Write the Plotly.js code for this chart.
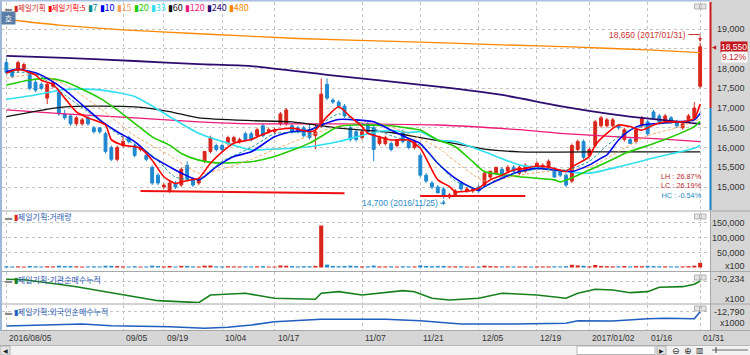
<!DOCTYPE html>
<html><head><meta charset="utf-8">
<script src="https://cdn.plot.ly/plotly-3.0.1.min.js"></script>
<style>html,body{margin:0;padding:0;background:#fff}#chart{width:750px;height:355px}</style>
</head><body><div id="chart"></div>
<script>
// ---------- DATA ----------
const dates = ["2016-08-05","2016-08-08","2016-08-09","2016-08-10","2016-08-11","2016-08-12","2016-08-16","2016-08-17","2016-08-18","2016-08-19",
"2016-08-22","2016-08-23","2016-08-24","2016-08-25","2016-08-26","2016-08-29","2016-08-30","2016-08-31","2016-09-01","2016-09-02",
"2016-09-05","2016-09-06","2016-09-07","2016-09-08","2016-09-09","2016-09-12","2016-09-13","2016-09-19","2016-09-20","2016-09-21",
"2016-09-22","2016-09-23","2016-09-26","2016-09-27","2016-09-28","2016-09-29","2016-09-30","2016-10-04","2016-10-05","2016-10-06",
"2016-10-07","2016-10-10","2016-10-11","2016-10-12","2016-10-13","2016-10-14","2016-10-17","2016-10-18","2016-10-19","2016-10-20",
"2016-10-21","2016-10-24","2016-10-25","2016-10-26","2016-10-27","2016-10-28","2016-10-31","2016-11-01","2016-11-02","2016-11-03",
"2016-11-04","2016-11-07","2016-11-08","2016-11-09","2016-11-10","2016-11-11","2016-11-14","2016-11-15","2016-11-16","2016-11-17",
"2016-11-18","2016-11-21","2016-11-22","2016-11-23","2016-11-24","2016-11-25","2016-11-28","2016-11-29","2016-11-30","2016-12-01",
"2016-12-02","2016-12-05","2016-12-06","2016-12-07","2016-12-08","2016-12-09","2016-12-12","2016-12-13","2016-12-14","2016-12-15",
"2016-12-16","2016-12-19","2016-12-20","2016-12-21","2016-12-22","2016-12-23","2016-12-26","2016-12-27","2016-12-28","2016-12-29",
"2017-01-02","2017-01-03","2017-01-04","2017-01-05","2017-01-06","2017-01-09","2017-01-10","2017-01-11","2017-01-12","2017-01-13",
"2017-01-16","2017-01-17","2017-01-18","2017-01-19","2017-01-20","2017-01-23","2017-01-24","2017-01-25","2017-01-26","2017-01-31"];

const open = [18150,17950,17950,18000,17900,17650,17600,17250,17550,17400,
16850,16800,16600,16600,16750,16500,16500,16350,16000,15700,
16050,16250,16050,15950,15800,15500,15300,15000,14900,15100,
15050,15550,15200,15100,15650,15900,16050,16050,16100,16150,
16150,16350,16350,16300,16550,16400,16400,16600,16600,16550,
16500,16500,16450,16300,16550,17600,17200,17150,17050,16500,
16400,16250,16600,16500,16100,16100,16100,16050,16400,16150,
16000,15800,15300,15100,15000,14950,14750,14800,15100,14900,
14900,15000,15050,15250,15350,15450,15400,15500,15350,15400,
15500,15500,15500,15500,15450,15400,15300,15150,15950,16150,
15800,16050,16550,16550,16550,16550,16200,16200,16150,16550,
16650,16900,16800,16700,16750,16650,16500,16700,16750,17550];
const high = [18250,18000,18200,18150,17950,17700,17650,17650,17700,17450,
16950,16850,16800,16750,16800,16550,16500,16400,16050,16050,
16300,16300,16100,16050,15850,15550,15350,15100,15150,15150,
15500,15650,15250,15250,15900,16300,16100,16100,16300,16300,
16250,16400,16400,16500,16600,16500,16500,16900,17000,16600,
16550,16550,16600,16600,17750,17750,17250,17200,17100,16550,
16450,16450,16650,16550,16300,16300,16150,16200,16450,16200,
16200,15850,15350,15150,15050,15000,14850,14950,15150,15000,
15000,15050,15400,15400,15500,15500,15550,15550,15550,15600,
15550,15650,15600,15700,15500,15450,15350,16100,16200,16200,
16000,16700,16800,16750,16750,16600,16500,16250,16500,16800,
16700,16950,16850,16850,16800,16700,16650,16850,17150,18650];
const low = [17850,17750,17900,17950,17450,17400,17450,17100,17500,16800,
16700,16550,16550,16550,16550,16350,16350,15850,15650,15650,
16000,16100,15750,15900,15650,15050,15050,14950,14850,14950,
15000,15150,15000,15050,15600,15850,15900,15900,16050,16100,
16100,16150,16150,16250,16250,16350,16350,16550,16550,16350,
16350,16250,16200,15950,16500,17200,17100,17000,16750,16150,
16150,16200,16350,15650,16050,16050,15900,16000,16100,15950,
15950,15250,15100,14950,14850,14700,14700,14750,14900,14850,
14850,14850,15000,15200,15300,15250,15350,15350,15300,15350,
15400,15450,15450,15450,15250,15250,15000,15100,15900,15700,
15750,16000,16500,16500,16500,16450,16150,16100,16100,16500,
16300,16700,16600,16650,16600,16500,16450,16650,16700,17500];
const close = [17900,17800,18150,18100,17500,17450,17500,17600,17650,16850,
16750,16600,16750,16700,16600,16400,16400,15900,15700,16000,
16150,16150,15800,16000,15700,15100,15100,15050,15100,15000,
15450,15200,15050,15200,15900,16250,15950,15950,16250,16250,
16200,16200,16200,16450,16300,16450,16450,16850,16950,16400,
16400,16300,16250,16400,17350,17250,17150,17050,16800,16200,
16200,16400,16400,15950,16250,16250,15950,16200,16150,16000,
16150,15300,15150,15000,14850,14800,14800,14900,14950,14950,
14950,14900,15350,15400,15500,15300,15500,15400,15500,15550,
15450,15600,15550,15650,15250,15300,15050,16050,16150,15750,
15950,16650,16750,16700,16700,16500,16450,16100,16450,16750,
16350,16750,16650,16800,16650,16550,16600,16800,17000,18550];
const volume = [4200,3500,3800,3000,5200,4000,3300,4100,3600,6000,
4500,4800,3900,3200,3600,4000,3500,5800,5500,4600,
3800,3200,4300,3000,3500,6200,4800,3600,5000,3100,
5400,5000,3800,3300,6100,6500,3900,3500,4200,3700,
3400,3900,3600,4000,4400,3200,3000,6800,5900,4700,
3600,4300,4200,5300,140000,9500,5200,4200,5000,6200,
4800,3500,3900,6400,3800,3600,3900,3300,4200,3600,
3500,7200,5100,4300,4600,5200,3600,3800,4000,3300,
3200,3400,6000,4400,3900,3500,3700,3400,3600,3800,
3200,3600,3500,3700,3900,3400,4500,9000,7000,5600,
3800,8500,5200,4400,3900,3800,5000,3700,4800,4200,
5500,4600,4100,3900,3500,3800,3600,4400,6000,15500];

// moving averages (day index, value)
const ma5Idx = [0,2,5,6,8,10,12,14,17,18,20,22,23,25,27,29,30,32,33,35,37,39,42,43,46,49,52,53,55,57,59,61,62,64,66,69,71,73,74,76,77,80,81,83,85,87,89,91,94,96,97,100,101,103,105,107,109,111,113,116,118,119];
const ma5Val = [17880,17980,17835,17700,17600,17250,16900,16750,16570,16200,16060,16020,15980,15680,15260,15090,15130,15190,15220,15600,15890,16110,16200,16270,16440,16490,16400,16440,16780,17030,16780,16530,16360,16270,16190,16190,15980,15430,15180,15010,14880,14920,14970,15180,15300,15430,15470,15530,15470,15390,15510,15770,16060,16360,16570,16530,16440,16570,16650,16650,16740,17100];
const ma7Idx = [0,5,10,14,19,25,29,33,37,42,46,52,57,61,66,71,74,77,81,85,91,96,100,103,107,112,118,119];
const ma7Val = [17900,17870,17330,16900,16350,15800,15250,15200,15650,16000,16350,16420,16850,16600,16300,16050,15600,15150,14950,15250,15450,15430,15650,16050,16450,16600,16700,16900];
const ma10Idx = [0,2,5,7,10,13,16,19,22,25,28,30,33,36,39,42,46,49,52,54,57,60,63,66,69,71,74,77,80,81,82,85,88,91,94,97,100,102,103,105,107,109,112,115,118,119];
const ma10Val = [17920,17980,17890,17750,17460,17080,16700,16400,16150,15770,15510,15350,15180,15510,15770,15890,16270,16400,16440,16570,16710,16700,16650,16440,16230,16100,15600,15220,14970,14920,15010,15220,15390,15470,15430,15390,15560,15730,15810,16190,16440,16570,16610,16650,16700,16860];
const ma15Idx = [0,5,10,16,22,28,33,37,42,46,52,57,63,69,74,77,82,88,94,100,105,110,115,119];
const ma15Val = [17750,17850,17600,17000,16300,15800,15350,15450,15700,15950,16300,16550,16650,16350,16000,15650,15150,15300,15420,15500,15900,16300,16500,16720];
const ma20Idx = [0,4,7,10,16,19,22,25,28,30,33,36,42,46,52,57,60,66,69,71,74,77,80,82,88,94,95,100,105,106,112,118,119];
const ma20Val = [17580,17710,17750,17670,17250,16950,16610,16270,16060,15850,15680,15610,15640,15770,16110,16530,16570,16550,16490,16440,16190,16020,15640,15390,15260,15180,15130,15430,15770,15850,16150,16530,16660];
const ma33Idx = [0,5,10,16,22,28,33,39,42,46,52,57,63,66,69,71,74,77,82,88,94,100,105,112,118,119];
const ma33Val = [17220,17330,17470,17460,17290,16780,16360,16060,15940,15960,16020,16150,16380,16430,16380,16400,16190,16150,15890,15560,15430,15350,15510,15770,15980,16060];
const ma60Idx = [0,10,22,28,33,42,49,57,66,71,77,82,88,105,119];
const ma60Val = [16780,17030,17030,16910,16750,16680,16650,16490,16380,16250,16100,15960,15890,15890,15890];
const ma120Idx = [0,10,22,33,42,57,74,88,95,105,112,119];
const ma120Val = [16950,16850,16750,16650,16600,16600,16570,16450,16360,16270,16220,16150];
const ma240Idx = [0,10,22,33,42,55,74,85,95,105,109,119];
const ma240Val = [18320,18270,18190,18110,18060,17840,17540,17330,17050,16820,16750,16600];
const ma480Idx = [0,9,20,33,50,68,85,98,110,119];
const ma480Val = [19240,19100,18980,18880,18760,18680,18600,18540,18470,18400];

// institutional / foreign cumulative net buying
const instIdx = [0,3,7,9,12,17,26,33,35,41,46,53,54,57,61,68,70,73,76,81,85,91,96,98,101,104,107,110,112,116,118,119];
const instVal = [-68500,-69000,-71900,-73500,-76000,-80900,-89900,-91900,-84200,-82500,-87500,-88500,-82500,-80900,-84200,-79900,-80900,-87500,-89200,-87500,-82500,-84200,-87500,-82500,-78500,-79200,-81900,-80900,-76500,-75900,-73500,-70234];
const forIdx = [0,13,18,28,34,38,42,46,54,65,71,78,87,96,98,104,110,113,118,119];
const forVal = [-19940,-18940,-19790,-20290,-21090,-20590,-19440,-17790,-16590,-16590,-17290,-18940,-18940,-18590,-17290,-17440,-16290,-16090,-16290,-12790];

// support lines drawn on the chart
const sup1Idx = [23,58], sup1Val = [14900,14840];
const sup2Idx = [71,89], sup2Val = [14770,14770];

// ticks
const tickDates = ["2016-08-05","2016-09-05","2016-09-19","2016-10-04","2016-10-17","2016-11-07","2016-11-21","2016-12-05","2016-12-19","2017-01-02","2017-01-16","2017-01-31"];
const tickText = ["2016/08/05","09/05","09/19","10/04","10/17","11/07","11/21","12/05","12/19","2017/01/02","01/16","01/31"];
const priceTicks = [15000,15500,16000,16500,17000,17500,18000,18500,19000];
const priceLabels = [15000,15500,16000,16500,17000,17500,18000,19000]; // 18,500 hidden behind the last-price box
const volTicks = [50000,100000,150000];
const legendNames = ["제일기획","제일기획:5","7","10","15","20","33","60","120","240","480"];

// ---------- STYLE ----------
const UP = '#d9261c', DN = '#1f88d0';
const C = {ma5:'#ff0000', ma7:'#008c8c', ma10:'#0000ee', ma15:'#f5a05a', ma20:'#22cc00', ma33:'#30e0f0', ma60:'#111111', ma120:'#ee1a7a', ma240:'#2e0b6e', ma480:'#ff8800'};
const legendColors = ['#d9261c','#ff0000',C.ma7,C.ma10,C.ma15,C.ma20,C.ma33,C.ma60,C.ma120,C.ma240,C.ma480];
const px = x => (x - 2) / 708;
const py = y => (330 - y) / 328;
const fmt = v => v.toLocaleString('en-US');
const NUMF = 'Liberation Sans, Arial, sans-serif';
const KRF = 'Noto Sans CJK KR, sans-serif';

const X = idx => idx.map(i => dates[i]);
function line(idx, val, color, width, dash, yaxis){
  return {type:'scatter', mode:'lines', x:X(idx), y:val, yaxis:yaxis||'y',
    line:{color:color, width:width, dash:dash||'solid', shape:'spline', smoothing:0.6}, hoverinfo:'skip'};
}

const volColors = close.map((c,i)=> c >= open[i] ? UP : DN);

const traces = [
  {type:'candlestick', x:dates, open:open, high:high, low:low, close:close, yaxis:'y',
   increasing:{line:{color:UP,width:1}, fillcolor:UP}, decreasing:{line:{color:DN,width:1}, fillcolor:DN},
   whiskerwidth:0, hoverinfo:'skip'},
  line(ma480Idx, ma480Val, C.ma480, 1.3),
  line(ma240Idx, ma240Val, C.ma240, 1.8),
  line(ma120Idx, ma120Val, C.ma120, 1.3),
  line(ma60Idx, ma60Val, C.ma60, 1.3),
  line(ma33Idx, ma33Val, C.ma33, 1.6),
  line(ma20Idx, ma20Val, C.ma20, 1.6),
  line(ma15Idx, ma15Val, C.ma15, 0.9, '3px,2px'),
  line(ma10Idx, ma10Val, C.ma10, 1.6),
  line(ma7Idx, ma7Val, C.ma7, 0.9, '3px,2px'),
  line(ma5Idx, ma5Val, C.ma5, 1.6),
  {type:'scatter', mode:'lines', x:X(sup1Idx), y:sup1Val, line:{color:'#ee1111', width:2}, hoverinfo:'skip'},
  {type:'scatter', mode:'lines', x:X(sup2Idx), y:sup2Val, line:{color:'#ee1111', width:2}, hoverinfo:'skip'},
  {type:'bar', x:dates, y:volume, yaxis:'y2', marker:{color:volColors, line:{width:0}}, width:0.7, hoverinfo:'skip'},
  {type:'scatter', mode:'lines', x:X(instIdx), y:instVal, yaxis:'y3', line:{color:'#17801c', width:1.6}, hoverinfo:'skip'},
  {type:'scatter', mode:'lines', x:X(forIdx), y:forVal, yaxis:'y4', line:{color:'#1f5fc0', width:1.6}, hoverinfo:'skip'}
];

const grid = {showgrid:true, gridcolor:'#c4c4c4', griddash:'dot', gridwidth:1, zeroline:false, showline:false, ticks:'', showticklabels:false, fixedrange:true};
const layout = {
  width:750, height:355, margin:{l:2, r:40, t:2, b:25, pad:0},
  paper_bgcolor:'#ffffff', plot_bgcolor:'rgba(0,0,0,0)', showlegend:false, hovermode:false,
  font:{family:NUMF, size:9, color:'#333'},
  xaxis:Object.assign({}, grid, {type:'category', range:[-0.755,120.69], tickvals:tickDates, anchor:'y4', rangeslider:{visible:false}}),
  yaxis:Object.assign({}, grid, {domain:[120/328,1], range:[14417.7,19683.5], tickvals:priceTicks, side:'right'}),
  yaxis2:Object.assign({}, grid, {domain:[59/328,118/328], range:[-11667,185000], tickvals:volTicks, side:'right'}),
  yaxis3:Object.assign({}, grid, {domain:[27/328,58/328], range:[-92234,-61234], tickvals:[-70234], side:'right'}),
  yaxis4:Object.assign({}, grid, {domain:[0,25/328], range:[-21940,-9440], tickvals:[-12790], side:'right'}),
  shapes:[], annotations:[]
};
const S = layout.shapes, A = layout.annotations;
// frame / backgrounds
S.push({type:'rect', xref:'paper', yref:'paper', x0:px(710), x1:px(751), y0:py(356), y1:py(-1), fillcolor:'#d6d6d6', line:{width:0}, layer:'below'});
S.push({type:'rect', xref:'paper', yref:'paper', x0:px(-1), x1:px(751), y0:py(345), y1:py(331), fillcolor:'#d6d6d6', line:{width:0}, layer:'below'});
S.push({type:'rect', xref:'paper', yref:'paper', x0:px(-1), x1:px(751), y0:py(356), y1:py(345), fillcolor:'#f2f2f2', line:{width:0}, layer:'below'});
S.push({type:'line', xref:'paper', yref:'paper', x0:px(-1), x1:px(751), y0:py(345.5), y1:py(345.5), line:{color:'#b8b8b8', width:1}});
[211, 271.5, 304, 330.5].forEach(y => S.push({type:'line', xref:'paper', yref:'paper', x0:px(2), x1:px(751), y0:py(y), y1:py(y), line:{color:'#a8a8a8', width:1}}));
S.push({type:'line', xref:'paper', yref:'paper', x0:px(1), x1:px(1), y0:py(331), y1:py(0), line:{color:'#7f9fc8', width:1.5}});
S.push({type:'line', xref:'paper', yref:'paper', x0:px(0), x1:px(710), y0:py(0.8), y1:py(0.8), line:{color:'#a9c1de', width:1.5}});
// price panel right edge (red above prior close, blue below)
S.push({type:'line', xref:'paper', yref:'y', x0:px(710.5), x1:px(710.5), y0:close[118], y1:19683.5, line:{color:'#cc1a1a', width:2}});
S.push({type:'line', xref:'paper', yref:'y', x0:px(710.5), x1:px(710.5), y0:14417.7, y1:close[118], line:{color:'#1f7fc0', width:2}});
S.push({type:'line', xref:'paper', yref:'paper', x0:px(710.5), x1:px(710.5), y0:py(330.5), y1:py(211.5), line:{color:'#a8a8a8', width:1}});
// small panel buttons
[4, 214, 275, 306].forEach(y => { [694.5, 701].forEach(x => S.push({type:'rect', xref:'paper', yref:'paper', x0:px(x), x1:px(x+5), y0:py(y+5), y1:py(y), fillcolor:'#e6e6e6', line:{color:'#9a9a9a', width:0.7}})); });
// bottom bar controls
S.push({type:'rect', xref:'paper', yref:'paper', x0:px(0), x1:px(10), y0:py(355), y1:py(346), fillcolor:'#e4e4e4', line:{color:'#9a9a9a', width:0.7}});
S.push({type:'rect', xref:'paper', yref:'paper', x0:px(577), x1:px(655), y0:py(354.5), y1:py(346), fillcolor:'#ffffff', line:{color:'#9a9a9a', width:0.7}});
S.push({type:'rect', xref:'paper', yref:'paper', x0:px(657), x1:px(666), y0:py(354.5), y1:py(346), fillcolor:'#e4e4e4', line:{color:'#9a9a9a', width:0.7}});
S.push({type:'line', xref:'paper', yref:'paper', x0:px(712), x1:px(748), y0:py(350), y1:py(350), line:{color:'#666', width:1}});
S.push({type:'line', xref:'paper', yref:'paper', x0:px(716), x1:px(716), y0:py(353), y1:py(347), line:{color:'#444', width:1}});

// legend (Korean narrower, digits larger as in the reference)
const isKo = s => /[가-힣]/.test(s);
A.push({xref:'paper', yref:'paper', x:px(3), y:py(7.5), xanchor:'left', yanchor:'middle', showarrow:false,
  text:'<span style="color:#888;font-size:7px">▬</span>&nbsp;' + legendNames.map((n,i)=>'<span style="color:'+legendColors[i]+';font-size:'+(isKo(n)?'7.5px':'9px')+'">▮'+n+'</span>').join('&nbsp;'),
  font:{family:KRF, size:9}});
A.push({xref:'paper', yref:'paper', x:px(8), y:py(18.5), xanchor:'center', yanchor:'middle', showarrow:false, text:'호',
  font:{family:KRF, size:8, color:'#ffffff'}, bgcolor:'#5b7ea6', borderpad:1, width:11, height:10});
// panel titles
[['거래량',216,'#d9261c'],['기관순매수누적',279,'#17801c'],['외국인순매수누적',311,'#1f5fc0']].forEach(t => {
  A.push({xref:'paper', yref:'paper', x:px(3), y:py(t[1]), xanchor:'left', yanchor:'middle', showarrow:false,
    text:'<span style="color:#888;font-size:7px">▬</span>&nbsp;<span style="color:'+t[2]+'">▮</span><span style="color:#2a58b0">제일기획:'+t[0]+'</span>',
    font:{family:KRF, size:8}});
});
// x tick labels (left aligned at grid line)
tickDates.forEach((d,k) => A.push({xref:'x', yref:'paper', x:dates.indexOf(d), y:py(338), xanchor:'left', yanchor:'middle', xshift:1,
  showarrow:false, text:tickText[k], font:{family:NUMF, size:8.5, color:'#333'}}));
// right axis labels
priceLabels.forEach(v => A.push({xref:'paper', yref:'y', x:px(747), y:v, xanchor:'right', yanchor:'middle', showarrow:false, text:fmt(v), font:{family:NUMF, size:9, color:'#333'}}));
volTicks.forEach(v => A.push({xref:'paper', yref:'y2', x:px(747), y:v, xanchor:'right', yanchor:'middle', showarrow:false, text:fmt(v), font:{family:NUMF, size:9, color:'#333'}}));
A.push({xref:'paper', yref:'paper', x:px(747), y:py(266), xanchor:'right', yanchor:'middle', showarrow:false, text:'x100', font:{family:NUMF, size:9, color:'#333'}});
A.push({xref:'paper', yref:'paper', x:px(747), y:py(279), xanchor:'right', yanchor:'middle', showarrow:false, text:fmt(instVal[instVal.length-1]), font:{family:NUMF, size:9, color:'#333'}});
A.push({xref:'paper', yref:'paper', x:px(747), y:py(298.5), xanchor:'right', yanchor:'middle', showarrow:false, text:'x100', font:{family:NUMF, size:9, color:'#333'}});
A.push({xref:'paper', yref:'paper', x:px(747), y:py(311.7), xanchor:'right', yanchor:'middle', showarrow:false, text:fmt(forVal[forVal.length-1]), font:{family:NUMF, size:9, color:'#333'}});
A.push({xref:'paper', yref:'paper', x:px(747), y:py(323), xanchor:'right', yanchor:'middle', showarrow:false, text:'x1000', font:{family:NUMF, size:9, color:'#333'}});
// last price box
const last = close.length-1;
const chg = (close[last]-close[last-1])/close[last-1]*100;
A.push({xref:'paper', yref:'y', x:px(748), y:close[last], xanchor:'right', yanchor:'middle', showarrow:false, text:fmt(close[last]),
  font:{family:NUMF, size:8.5, color:'#ffffff'}, bgcolor:'#c4161c', borderpad:0});
A.push({xref:'paper', yref:'y', x:px(714.5), y:close[last], xanchor:'center', yanchor:'middle', showarrow:false, text:'◀', font:{family:'DejaVu Sans', size:5.5, color:'#c4161c'}});
A.push({xref:'paper', yref:'paper', x:px(748), y:py(57), xanchor:'right', yanchor:'middle', showarrow:false, text:chg.toFixed(2)+'%',
  font:{family:NUMF, size:8.5, color:'#c4161c'}, bgcolor:'#ffffff', borderpad:0});
// high / low markers
let hi = 0, lo = 0;
high.forEach((v,i)=>{ if (v >= high[hi]) hi = i; });
low.forEach((v,i)=>{ if (v < low[lo]) lo = i; });
const hiLabelY = high[hi] + 210, loLabelY = low[lo] - 110;
A.push({xref:'x', yref:'y', x:hi-2.0, y:hiLabelY, xanchor:'right', yanchor:'middle', showarrow:false,
  text:fmt(high[hi])+' ('+dates[hi].replace(/-/g,'/')+')', font:{family:NUMF, size:8.5, color:'#cc3333'}});
S.push({type:'line', xref:'x', yref:'y', x0:hi-2.0, x1:hi, y0:hiLabelY, y1:hiLabelY, line:{color:'#cc3333', width:1}});
A.push({xref:'x', yref:'y', x:hi, y:high[hi]+20, ax:0, ay:-8, showarrow:true, arrowhead:2, arrowsize:0.8, arrowwidth:1, arrowcolor:'#cc3333', text:''});
A.push({xref:'x', yref:'y', x:lo-0.7, y:loLabelY, xanchor:'right', yanchor:'middle', showarrow:false,
  text:fmt(low[lo])+' ('+dates[lo].replace(/-/g,'/')+')', font:{family:NUMF, size:8.5, color:'#2d8cc8'}});
S.push({type:'line', xref:'x', yref:'y', x0:lo-0.6, x1:lo, y0:loLabelY, y1:loLabelY, line:{color:'#2d8cc8', width:1}});
A.push({xref:'x', yref:'y', x:lo, y:low[lo]-20, ax:0, ay:7, showarrow:true, arrowhead:2, arrowsize:0.8, arrowwidth:1, arrowcolor:'#2d8cc8', text:''});
// LH / LC / HC (one block)
const LH = (high[hi]-low[lo])/low[lo]*100, LC = (close[last]-low[lo])/low[lo]*100, HC = (close[last]-high[hi])/high[hi]*100;
A.push({xref:'paper', yref:'paper', x:px(704), y:py(186), xanchor:'right', yanchor:'middle', align:'right', showarrow:false,
  text:'<span style="color:#c0282e">LH : '+LH.toFixed(2)+'%</span><br><span style="color:#c0282e">LC : '+LC.toFixed(2)+'%</span><br><span style="color:#2a8cc4">HC : '+HC.toFixed(2)+'%</span>',
  font:{family:NUMF, size:7.3}});
// bottom bar glyphs
A.push({xref:'paper', yref:'paper', x:px(5), y:py(350.5), xanchor:'center', yanchor:'middle', showarrow:false, text:'◀', font:{family:'DejaVu Sans', size:6, color:'#222'}});
A.push({xref:'paper', yref:'paper', x:px(661.5), y:py(350.5), xanchor:'center', yanchor:'middle', showarrow:false, text:'▶', font:{family:'DejaVu Sans', size:6, color:'#222'}});
A.push({xref:'paper', yref:'paper', x:px(676), y:py(350.5), xanchor:'center', yanchor:'middle', showarrow:false, text:'⊖', font:{family:'DejaVu Sans', size:9, color:'#333'}});
A.push({xref:'paper', yref:'paper', x:px(688), y:py(350.5), xanchor:'center', yanchor:'middle', showarrow:false, text:'⊕', font:{family:'DejaVu Sans', size:9, color:'#333'}});
A.push({xref:'paper', yref:'paper', x:px(700), y:py(350.5), xanchor:'center', yanchor:'middle', showarrow:false, text:'▥', font:{family:'DejaVu Sans', size:8, color:'#333'}});

Plotly.newPlot('chart', traces, layout, {staticPlot:true, displayModeBar:false});
</script></body></html>
